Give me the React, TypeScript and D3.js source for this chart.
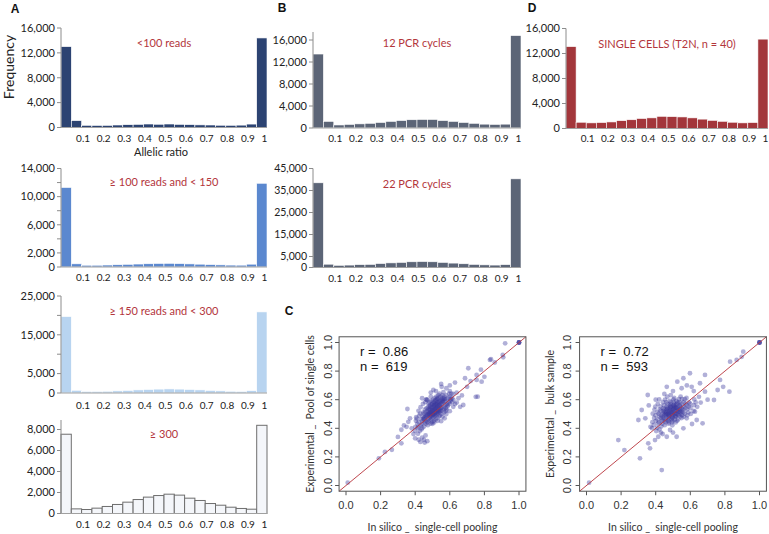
import React from "react";
import * as d3 from "d3";

// histogram bins (left edge of each 0.05 bin)
const binStarts = [0, 0.05, 0.1, 0.15, 0.2, 0.25, 0.3, 0.35, 0.4, 0.45, 0.5, 0.55, 0.6, 0.65, 0.7, 0.75, 0.8, 0.85, 0.9, 0.95];
const ratioTicks = [0.1, 0.2, 0.3, 0.4, 0.5, 0.6, 0.7, 0.8, 0.9, 1];

// panel A
const readsLt100 = [13000, 1100, 350, 330, 340, 400, 450, 500, 560, 520, 560, 500, 460, 420, 400, 360, 350, 380, 550, 14400];
const reads100to150 = [11300, 450, 250, 250, 280, 320, 380, 420, 460, 500, 520, 480, 440, 400, 340, 300, 270, 260, 400, 11900];
const reads150to300 = [19700, 700, 400, 400, 450, 550, 650, 800, 900, 1000, 1050, 1000, 900, 800, 650, 550, 450, 400, 600, 20900];
const reads300 = [7550, 440, 380, 510, 670, 860, 1080, 1330, 1560, 1710, 1840, 1750, 1460, 1240, 950, 790, 600, 480, 410, 8400];
// panel B
const pcr12 = [13450, 1200, 550, 650, 750, 850, 1000, 1200, 1350, 1500, 1550, 1550, 1350, 1200, 1000, 850, 700, 650, 700, 16800];
const pcr22 = [38500, 1500, 1000, 1100, 1300, 1400, 1800, 2100, 2300, 2600, 2700, 2600, 2300, 2000, 1700, 1400, 1200, 1100, 1300, 40300];
// panel D
const singleCells = [13100, 1000, 900, 950, 1050, 1250, 1400, 1600, 1700, 1950, 1900, 1850, 1700, 1500, 1300, 1150, 1000, 900, 950, 14300];

// panel C: in silico pooling (x) vs experimental pool (y)
const poolPoints: [number, number][] = [
  [0.01, 0.02], [0.19, 0.19], [0.225, 0.235], [0.265, 0.25], [0.3, 0.34], [0.32, 0.295], [0.32, 0.39], [0.335, 0.42],
  [0.355, 0.535], [0.35, 0.41], [0.36, 0.445], [0.37, 0.47], [0.38, 0.4], [0.39, 0.36], [0.4, 0.33], [0.42, 0.32],
  [0.43, 0.305], [0.44, 0.335], [0.455, 0.3], [0.46, 0.35], [0.47, 0.31], [0.45, 0.32], [0.47, 0.6], [0.505, 0.668],
  [0.553, 0.69], [0.466, 0.598], [0.44, 0.61], [0.49, 0.65], [0.52, 0.66], [0.58, 0.68], [0.6, 0.7], [0.63, 0.72],
  [0.55, 0.71], [0.6, 0.66], [0.62, 0.64], [0.62, 0.6], [0.63, 0.57], [0.64, 0.65], [0.65, 0.61], [0.66, 0.55],
  [0.67, 0.63], [0.678, 0.563], [0.688, 0.75], [0.7, 0.69], [0.707, 0.82], [0.72, 0.73], [0.755, 0.773], [0.755, 0.738],
  [0.761, 0.621], [0.75, 0.62], [0.78, 0.81], [0.784, 0.726], [0.8, 0.76], [0.832, 0.878], [0.838, 0.883], [0.86, 0.86],
  [0.909, 0.896], [0.906, 0.913], [0.92, 0.994], [1, 1], [1, 1], [1, 1], [1, 1], [0.58, 0.5], [0.6, 0.52], [0.57, 0.47],
  [0.62, 0.55], [0.55, 0.45], [0.64, 0.58],
  [0.401, 0.41], [0.404, 0.452], [0.398, 0.383], [0.406, 0.478],
  [0.412, 0.432], [0.414, 0.401], [0.409, 0.468], [0.416, 0.362],
  [0.421, 0.443], [0.423, 0.489], [0.418, 0.412], [0.426, 0.381], [0.419, 0.522],
  [0.432, 0.421], [0.434, 0.462], [0.429, 0.503], [0.436, 0.392], [0.431, 0.548],
  [0.442, 0.451], [0.444, 0.483], [0.439, 0.431], [0.447, 0.512], [0.441, 0.402], [0.445, 0.571],
  [0.452, 0.472], [0.455, 0.441], [0.449, 0.503], [0.457, 0.533], [0.451, 0.412], [0.454, 0.462], [0.458, 0.583],
  [0.462, 0.483], [0.464, 0.452], [0.459, 0.512], [0.466, 0.541], [0.461, 0.431], [0.468, 0.493], [0.463, 0.602],
  [0.472, 0.492], [0.474, 0.461], [0.469, 0.522], [0.477, 0.553], [0.471, 0.441], [0.475, 0.503], [0.478, 0.572], [0.473, 0.422],
  [0.482, 0.503], [0.484, 0.472], [0.479, 0.531], [0.486, 0.561], [0.481, 0.452], [0.487, 0.512], [0.483, 0.583], [0.488, 0.433], [0.485, 0.482],
  [0.492, 0.512], [0.494, 0.481], [0.489, 0.542], [0.496, 0.572], [0.491, 0.461], [0.497, 0.523], [0.493, 0.592], [0.498, 0.441], [0.495, 0.503], [0.49, 0.622],
  [0.502, 0.523], [0.504, 0.492], [0.499, 0.551], [0.506, 0.583], [0.501, 0.471], [0.507, 0.532], [0.503, 0.601], [0.508, 0.452], [0.505, 0.502], [0.509, 0.562], [0.5, 0.431],
  [0.512, 0.532], [0.514, 0.503], [0.509, 0.562], [0.516, 0.591], [0.511, 0.482], [0.517, 0.542], [0.513, 0.612], [0.518, 0.462], [0.515, 0.513], [0.519, 0.573], [0.51, 0.441],
  [0.522, 0.541], [0.524, 0.512], [0.519, 0.572], [0.526, 0.603], [0.521, 0.491], [0.527, 0.552], [0.523, 0.621], [0.528, 0.471], [0.525, 0.522], [0.529, 0.583],
  [0.532, 0.553], [0.534, 0.522], [0.529, 0.581], [0.536, 0.612], [0.531, 0.502], [0.537, 0.561], [0.533, 0.632], [0.538, 0.483], [0.535, 0.532], [0.53, 0.452],
  [0.542, 0.562], [0.544, 0.531], [0.539, 0.592], [0.546, 0.621], [0.541, 0.512], [0.547, 0.573], [0.543, 0.491], [0.548, 0.542], [0.54, 0.642],
  [0.552, 0.571], [0.554, 0.541], [0.549, 0.602], [0.556, 0.631], [0.551, 0.523], [0.557, 0.583], [0.553, 0.502], [0.558, 0.482],
  [0.562, 0.582], [0.564, 0.551], [0.559, 0.612], [0.566, 0.532], [0.561, 0.592], [0.567, 0.512], [0.563, 0.652],
  [0.572, 0.591], [0.574, 0.562], [0.569, 0.621], [0.576, 0.542], [0.571, 0.603], [0.577, 0.521],
  [0.582, 0.603], [0.584, 0.571], [0.579, 0.632], [0.586, 0.552], [0.581, 0.531],
  [0.592, 0.612], [0.594, 0.582], [0.589, 0.561], [0.596, 0.642],
  [0.602, 0.621], [0.604, 0.592], [0.599, 0.572], [0.606, 0.603],
  [0.612, 0.611], [0.614, 0.582], [0.609, 0.643],
  [0.476, 0.512], [0.486, 0.528], [0.496, 0.538], [0.506, 0.548], [0.516, 0.558], [0.526, 0.568], [0.536, 0.578],
  [0.481, 0.497], [0.491, 0.507], [0.501, 0.517], [0.511, 0.527], [0.521, 0.537], [0.531, 0.547], [0.541, 0.557],
  [0.466, 0.487], [0.456, 0.478], [0.446, 0.466], [0.546, 0.588], [0.556, 0.597], [0.566, 0.607],
  [0.488, 0.552], [0.498, 0.567], [0.508, 0.577], [0.518, 0.597], [0.528, 0.607], [0.478, 0.537],
  [0.493, 0.488], [0.503, 0.498], [0.513, 0.491], [0.523, 0.506], [0.533, 0.516], [0.543, 0.522]
];

// panel C: in silico pooling (x) vs bulk sample (y)
const bulkPoints: [number, number][] = [
  [0.015, 0.02], [0.184, 0.318], [0.219, 0.248], [0.309, 0.19], [0.435, 0.108], [0.3, 0.458], [0.319, 0.528], [0.354, 0.633],
  [0.357, 0.295], [0.367, 0.26], [0.396, 0.318], [0.415, 0.341], [0.464, 0.341], [0.483, 0.388], [0.521, 0.341], [0.44, 0.36],
  [0.671, 0.435], [0.579, 0.47], [0.627, 0.516], [0.637, 0.458], [0.464, 0.69], [0.525, 0.726], [0.56, 0.75], [0.598, 0.785],
  [0.608, 0.69], [0.656, 0.715], [0.685, 0.773], [0.685, 0.656], [0.772, 0.738], [0.79, 0.69], [0.737, 0.598], [0.758, 0.668],
  [0.826, 0.656], [0.83, 0.866], [0.868, 0.878], [0.897, 0.9], [0.906, 0.936], [1, 1], [1, 1], [1, 1], [1, 1],
  [0.65, 0.62], [0.66, 0.58], [0.62, 0.66], [0.58, 0.7], [0.5, 0.66], [0.45, 0.64], [0.4, 0.6], [0.36, 0.56], [0.34, 0.47],
  [0.37, 0.41], [0.43, 0.37], [0.5, 0.37], [0.56, 0.4], [0.61, 0.43], [0.64, 0.55], [0.7, 0.6], [0.55, 0.68],
  [0.381, 0.443], [0.383, 0.502], [0.379, 0.401],
  [0.391, 0.472], [0.389, 0.423], [0.393, 0.531],
  [0.401, 0.452], [0.399, 0.491], [0.403, 0.381], [0.398, 0.552],
  [0.411, 0.462], [0.409, 0.512], [0.413, 0.432], [0.408, 0.403], [0.412, 0.571],
  [0.421, 0.482], [0.419, 0.441], [0.423, 0.532], [0.418, 0.503], [0.422, 0.392], [0.42, 0.602],
  [0.431, 0.473], [0.429, 0.522], [0.433, 0.452], [0.428, 0.553], [0.432, 0.413], [0.43, 0.492],
  [0.441, 0.503], [0.439, 0.462], [0.443, 0.541], [0.438, 0.432], [0.442, 0.582], [0.44, 0.482], [0.444, 0.521],
  [0.451, 0.492], [0.449, 0.532], [0.453, 0.451], [0.448, 0.561], [0.452, 0.422], [0.45, 0.512], [0.454, 0.601], [0.447, 0.472],
  [0.461, 0.512], [0.459, 0.483], [0.463, 0.551], [0.458, 0.442], [0.462, 0.582], [0.46, 0.503], [0.464, 0.532], [0.457, 0.462],
  [0.471, 0.502], [0.469, 0.541], [0.473, 0.472], [0.468, 0.571], [0.472, 0.453], [0.47, 0.522], [0.474, 0.492], [0.467, 0.621], [0.475, 0.432],
  [0.481, 0.522], [0.479, 0.492], [0.483, 0.561], [0.478, 0.462], [0.482, 0.591], [0.48, 0.533], [0.484, 0.503], [0.477, 0.441], [0.485, 0.551],
  [0.491, 0.511], [0.489, 0.552], [0.493, 0.482], [0.488, 0.581], [0.492, 0.463], [0.49, 0.532], [0.494, 0.501], [0.487, 0.632], [0.495, 0.442],
  [0.501, 0.532], [0.499, 0.492], [0.503, 0.561], [0.498, 0.472], [0.502, 0.602], [0.5, 0.512], [0.504, 0.541], [0.497, 0.452], [0.505, 0.583], [0.496, 0.421],
  [0.511, 0.521], [0.509, 0.552], [0.513, 0.482], [0.508, 0.571], [0.512, 0.503], [0.51, 0.461], [0.514, 0.542], [0.507, 0.612], [0.515, 0.441],
  [0.521, 0.542], [0.519, 0.503], [0.523, 0.572], [0.518, 0.482], [0.522, 0.521], [0.52, 0.591], [0.524, 0.452], [0.517, 0.562],
  [0.531, 0.512], [0.529, 0.552], [0.533, 0.492], [0.528, 0.581], [0.532, 0.532], [0.53, 0.462], [0.534, 0.603],
  [0.541, 0.532], [0.539, 0.562], [0.543, 0.502], [0.538, 0.581], [0.542, 0.482], [0.54, 0.553], [0.544, 0.622],
  [0.551, 0.522], [0.549, 0.572], [0.553, 0.492], [0.548, 0.541], [0.552, 0.603], [0.55, 0.472],
  [0.561, 0.552], [0.559, 0.512], [0.563, 0.582], [0.558, 0.532], [0.562, 0.482],
  [0.571, 0.541], [0.569, 0.502], [0.573, 0.572], [0.568, 0.603],
  [0.581, 0.532], [0.579, 0.562], [0.583, 0.491], [0.578, 0.612],
  [0.591, 0.552], [0.589, 0.512], [0.593, 0.581],
  [0.601, 0.542], [0.599, 0.572], [0.603, 0.501],
  [0.621, 0.562], [0.619, 0.521], [0.623, 0.602], [0.631, 0.581],
  [0.466, 0.497], [0.476, 0.507], [0.486, 0.517], [0.496, 0.527], [0.506, 0.537], [0.516, 0.547], [0.526, 0.527],
  [0.456, 0.517], [0.466, 0.537], [0.486, 0.547], [0.506, 0.507], [0.526, 0.497], [0.536, 0.517], [0.546, 0.512],
  [0.476, 0.482], [0.496, 0.477], [0.516, 0.487], [0.456, 0.497], [0.486, 0.567], [0.506, 0.557]
];

const fmt = d3.format(",");
const histFont = "Lato, 'Open Sans', sans-serif";
const rFont = "'Liberation Sans', Arial, sans-serif";
const titleRed = "#b3363c";

type HistProps = {
  x0: number; x1: number; yBase: number; yTop: number; max: number; axisTop?: number;
  values: number[]; fill: string; stroke?: string; ticks: number[]; labels: number[];
  title: string; titleY: number; labelY: number; labelSize?: number;
};

function Histogram(p: HistProps) {
  const x = d3.scaleLinear().domain([0, 1]).range([p.x0, p.x1]);
  const y = d3.scaleLinear().domain([0, p.max]).range([p.yBase, p.yTop]);
  const top = p.axisTop ?? y(p.max);
  return (
    <g>
      {binStarts.map((b, i) => (
        <rect key={i} x={x(b)} width={x(b + 0.05) - x(b)} y={y(p.values[i])}
          height={p.yBase - y(p.values[i])} fill={p.fill}
          stroke={p.stroke ?? "#ffffff"} strokeWidth={p.stroke ? 1 : 0.6} />
      ))}
      <line x1={p.x0} x2={p.x0} y1={p.yBase} y2={top} stroke="#8c8c8c" />
      <line x1={p.x0} x2={p.x1} y1={p.yBase} y2={p.yBase} stroke="#a0a0a0" />
      {p.ticks.map(t => (
        <line key={t} x1={p.x0 - 4} x2={p.x0} y1={y(t)} y2={y(t)} stroke="#8c8c8c" />
      ))}
      {p.labels.map(t => (
        <text key={t} x={p.x0 - 6} y={y(t)} dy="0.35em" textAnchor="end" fontSize={p.labelSize ?? 11}
          fontFamily={histFont} fill="#222">{fmt(t)}</text>
      ))}
      {ratioTicks.map(t => (
        <text key={t} x={t === 1 ? x(t) - 2.5 : x(t) + 1.5} y={p.labelY} dy="0.35em" textAnchor="middle"
          fontSize={10} fontFamily={histFont} fill="#222">{String(t)}</text>
      ))}
      <text x={x(0.5)} y={p.titleY} dy="0.35em" textAnchor="middle" fontSize={11}
        fontFamily={histFont} fill={titleRed}>{p.title}</text>
    </g>
  );
}

type ScatterProps = {
  x0: number; x1: number; yBase: number; yTop: number; points: [number, number][];
  r: string; n: string; yTitle: string; yTitleX: number; yLabelX: number;
};

function Scatter(p: ScatterProps) {
  const x = d3.scaleLinear().domain([0, 1]).range([p.x0, p.x1]);
  const y = d3.scaleLinear().domain([0, 1]).range([p.yBase, p.yTop]);
  const ticks = [0, 0.2, 0.4, 0.6, 0.8, 1];
  const f = d3.format(".1f");
  const bx0 = x(-0.04), bx1 = x(1.04), by0 = y(-0.04), by1 = y(1.04);
  const pre = { whiteSpace: "pre" as const };
  return (
    <g>
      {p.points.map((d, i) => (
        <circle key={i} cx={x(d[0])} cy={y(d[1])} r={2.4} fill="#3d3a9e" fillOpacity={0.4} />
      ))}
      <line x1={bx0} y1={by0} x2={bx1} y2={by1} stroke="#b8323a" strokeWidth={0.9} />
      <rect x={bx0} y={by1} width={bx1 - bx0} height={by0 - by1} fill="none" stroke="#555" strokeWidth={1} />
      {ticks.map(t => (
        <g key={t}>
          <line x1={x(t)} x2={x(t)} y1={by0} y2={by0 + 4} stroke="#555" />
          <line x1={bx0 - 4} x2={bx0} y1={y(t)} y2={y(t)} stroke="#555" />
          <text x={x(t)} y={505} dy="0.35em" textAnchor="middle" fontSize={11} fontFamily={rFont} fill="#333">{f(t)}</text>
          <text transform={`translate(${p.yLabelX},${y(t)}) rotate(-90)`} dy="0.35em" textAnchor="middle"
            fontSize={11} fontFamily={rFont} fill="#333">{f(t)}</text>
        </g>
      ))}
      <text x={bx0 + 21} y={351} dy="0.35em" fontSize={13} fontFamily={rFont} fill="#111" style={pre}>{`r =  ${p.r}`}</text>
      <text x={bx0 + 21} y={366} dy="0.35em" fontSize={13} fontFamily={rFont} fill="#111" style={pre}>{`n =  ${p.n}`}</text>
      <text x={(bx0 + bx1) / 2} y={527} dy="0.35em" textAnchor="middle" fontSize={10.5} fontFamily={histFont} fill="#333" style={pre}>
        {"In silico _  single-cell pooling"}
      </text>
      <text transform={`translate(${p.yTitleX},${(by0 + by1) / 2}) rotate(-90)`} dy="0.35em" textAnchor="middle"
        fontSize={10.5} fontFamily={histFont} fill="#333" style={pre}>{p.yTitle}</text>
    </g>
  );
}

function Letter({ x, y, t }: { x: number; y: number; t: string }) {
  return <text x={x} y={y} dy="0.35em" textAnchor="middle" fontSize={12} fontWeight="bold" fontFamily={rFont} fill="#111">{t}</text>;
}

export default function App() {
  return (
    <div style={{ position: "absolute", left: 0, top: 0 }}>
      <svg width={769} height={534} style={{ display: "block", background: "#fff" }}>
        <Letter x={15} y={9} t="A" />
        <Letter x={282} y={8} t="B" />
        <Letter x={532} y={8} t="D" />
        <Letter x={289} y={311} t="C" />
        <text transform="translate(9,67) rotate(-90)" dy="0.35em" textAnchor="middle" fontSize={14}
          fontFamily={histFont} fill="#222">Frequency</text>
        <text x={161} y={152} dy="0.35em" textAnchor="middle" fontSize={11} fontFamily={histFont} fill="#222">Allelic ratio</text>

        <Histogram x0={61} x1={267} yBase={127.5} yTop={28} max={16000} values={readsLt100} fill="#2c4372"
          ticks={[0, 4000, 8000, 12000, 16000]} labels={[0, 4000, 8000, 12000, 16000]}
          title="<100 reads" titleY={43} labelY={138} />
        <Histogram x0={61} x1={267} yBase={267} yTop={168.5} max={14000} values={reads100to150} fill="#5b88cf"
          ticks={[0, 2000, 4000, 6000, 8000, 10000, 12000, 14000]} labels={[0, 2000, 6000, 10000, 14000]}
          title="≥ 100 reads and < 150" titleY={182} labelY={277} />
        <Histogram x0={61} x1={267} yBase={393} yTop={296} max={25000} values={reads150to300} fill="#b8d4f0"
          ticks={[0, 5000, 10000, 15000, 20000, 25000]} labels={[0, 5000, 15000, 25000]}
          title="≥ 150 reads and < 300" titleY={311} labelY={405} />
        <Histogram x0={61} x1={267} yBase={513.5} yTop={429.5} max={8000} axisTop={420} values={reads300} fill="#f4f6fa" stroke="#6e6e6e"
          ticks={[0, 2000, 4000, 6000, 8000]} labels={[0, 2000, 4000, 6000, 8000]}
          title="≥ 300" titleY={434} labelY={524} />

        <Histogram x0={313} x1={521} yBase={128} yTop={40} max={16000} axisTop={32} values={pcr12} fill="#5c6577"
          ticks={[0, 4000, 8000, 12000, 16000]} labels={[0, 4000, 8000, 12000, 16000]}
          title="12 PCR cycles" titleY={43} labelY={138} />
        <Histogram x0={313} x1={521} yBase={267.5} yTop={168.5} max={45000} values={pcr22} fill="#5c6577" labelSize={10.5}
          ticks={[0, 5000, 15000, 25000, 35000, 45000]} labels={[0, 5000, 15000, 25000, 35000, 45000]}
          title="22 PCR cycles" titleY={184} labelY={278} />

        <Histogram x0={566} x1={768} yBase={128.5} yTop={28.5} max={16000} values={singleCells} fill="#a3363b"
          ticks={[0, 4000, 8000, 12000, 16000]} labels={[0, 4000, 8000, 12000, 16000]}
          title="SINGLE CELLS (T2N, n = 40)" titleY={44} labelY={138} />

        <Scatter x0={346} x1={519} yBase={485.5} yTop={342.5} points={poolPoints} r="0.86" n="619"
          yTitle="Experimental _  Pool of single cells" yTitleX={310} yLabelX={328} />
        <Scatter x0={586.5} x1={759.5} yBase={485.5} yTop={342.5} points={bulkPoints} r="0.72" n="593"
          yTitle="Experimental _  bulk sample" yTitleX={550} yLabelX={567} />
      </svg>
    </div>
  );
}
